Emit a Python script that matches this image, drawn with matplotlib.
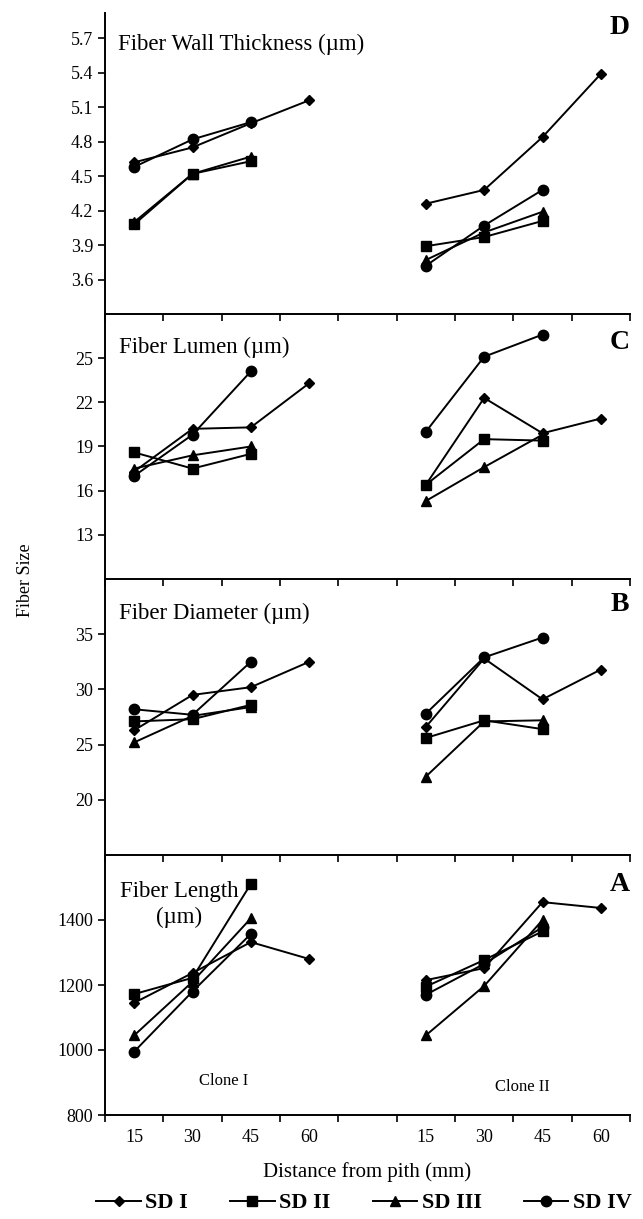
import numpy as np
import matplotlib.pyplot as plt

plt.rcParams['font.family'] = ['Liberation Serif', 'DejaVu Serif']

series = ['SD I', 'SD II', 'SD III', 'SD IV']
distances = ['15', '30', '45', '60']

# values read per series (SD I..SD IV), clone I then clone II
wall_clone1 = [[4.62, 4.75, 4.96, 5.16], [4.08, 4.52, 4.63], [4.10, 4.52, 4.67], [4.58, 4.82, 4.97]]
wall_clone2 = [[4.26, 4.38, 4.84, 5.39], [3.89, 3.97, 4.11], [3.77, 4.01, 4.19], [3.72, 4.07, 4.38]]
wall_ticks = [3.6, 3.9, 4.2, 4.5, 4.8, 5.1, 5.4, 5.7]

lumen_clone1 = [[17.3, 20.2, 20.3, 23.3], [18.6, 17.5, 18.5], [17.5, 18.4, 19.0], [17.0, 19.8, 24.1]]
lumen_clone2 = [[16.4, 22.3, 19.9, 20.9], [16.4, 19.5, 19.4], [15.3, 17.6, 19.8], [20.0, 25.1, 26.6]]
lumen_ticks = [13, 16, 19, 22, 25]

diam_clone1 = [[26.3, 29.5, 30.2, 32.5], [27.1, 27.3, 28.6], [25.2, 27.6, 28.4], [28.2, 27.7, 32.5]]
diam_clone2 = [[26.6, 32.8, 29.1, 31.8], [25.6, 27.2, 26.4], [22.1, 27.1, 27.2], [27.8, 32.9, 34.7]]
diam_ticks = [20, 25, 30, 35]

length_clone1 = [[1145, 1237, 1332, 1280], [1172, 1222, 1511], [1045, 1210, 1405], [995, 1180, 1357]]
length_clone2 = [[1215, 1252, 1455, 1437], [1195, 1277, 1365], [1045, 1197, 1400], [1170, 1265, 1378]]
length_ticks = [800, 1000, 1200, 1400]

panels = [
    ('Fiber Wall Thickness (\u00b5m)', 'D', wall_clone1, wall_clone2, wall_ticks, (3.3, 5.92), '%.1f'),
    ('Fiber Lumen (\u00b5m)', 'C', lumen_clone1, lumen_clone2, lumen_ticks, (10, 28), '%d'),
    ('Fiber Diameter (\u00b5m)', 'B', diam_clone1, diam_clone2, diam_ticks, (15, 40), '%d'),
    ('Fiber Length\n(\u00b5m)', 'A', length_clone1, length_clone2, length_ticks, (800, 1600), '%d'),
]

styles = [('D', 5.5), ('s', 6.5), ('^', 7), ('o', 7.5)]

W, H = 643, 1219
fig = plt.figure(figsize=(W / 100, H / 100), dpi=100)

# pixel rows of each panel (top, bottom)
rows = [(13, 314), (314, 579), (579, 855), (855, 1115)]
left, right = 105, 630

title_pos = [(0.025, 0.894, 'left'), (0.027, 0.875, 'left'), (0.027, 0.877, 'left'), (0.142, 0.808, 'center')]
letter_pos = [0.953, 0.894, 0.906, 0.885]

axes = []
for i, (title, letter, c1, c2, ticks, ylim, fmt) in enumerate(panels):
    top, bot = rows[i]
    ax = fig.add_axes([left / W, 1 - bot / H, (right - left) / W, (bot - top) / H])
    ax.patch.set_alpha(0)
    for s in range(len(series)):
        m, ms = styles[s]
        x1 = np.arange(len(c1[s])) + 1
        x2 = np.arange(len(c2[s])) + 6
        ax.plot(x1, c1[s], color='black', lw=1.4, marker=m, ms=ms, label=series[s])
        ax.plot(x2, c2[s], color='black', lw=1.4, marker=m, ms=ms)
    ax.set_xlim(0.5, 9.5)
    ax.set_ylim(*ylim)
    ax.set_yticks(ticks)
    ax.set_yticklabels([fmt % t for t in ticks])
    ax.set_xticks(np.arange(0.5, 10, 1))
    ax.set_xticklabels([])
    ax.tick_params(axis='both', direction='out', length=5, width=1.2, labelsize=13)
    for sp in ['top', 'right']:
        ax.spines[sp].set_visible(False)
    for sp in ['left', 'bottom']:
        ax.spines[sp].set_linewidth(1.4)
    tx, ty, ha = title_pos[i]
    ax.text(tx, ty, title, transform=ax.transAxes, fontsize=16.5, ha=ha, va='center',
            linespacing=1.3)
    ax.text(0.981, letter_pos[i], letter, transform=ax.transAxes, fontsize=20,
            fontweight='bold', ha='center', va='center')
    axes.append(ax)

axA = axes[-1]
axA.set_xticks(np.arange(1, 10), minor=True)
axA.set_xticklabels(distances + [''] + distances, minor=True)
axA.tick_params(axis='x', which='minor', length=0, labelsize=13, pad=10)
axA.text(2.54, 905, 'Clone I', fontsize=12, ha='center', va='center')
axA.text(7.65, 885, 'Clone II', fontsize=12, ha='center', va='center')

fig.text(25 / W, 1 - 580 / H, 'Fiber Size', rotation=90, fontsize=13, ha='center', va='center')
fig.text(367 / W, 1 - 1172 / H, 'Distance from pith (mm)', fontsize=15, ha='center', va='center')

handles, labels = axes[0].get_legend_handles_labels()
fig.legend(handles, labels, loc='center', bbox_to_anchor=(364 / W, 1 - 1203 / H), ncol=4,
           frameon=False, prop={'size': 16, 'weight': 'bold'}, handlelength=2.0,
           handletextpad=0.2, columnspacing=1.9, borderaxespad=0)

fig.savefig('out.png', dpi=100)
